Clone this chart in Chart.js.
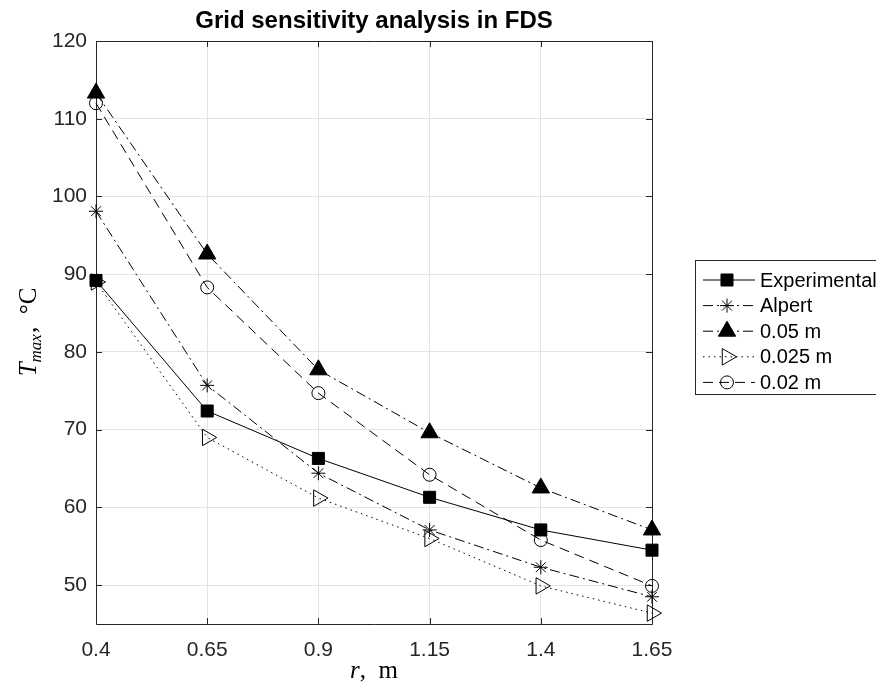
<!DOCTYPE html>
<html>
<head>
<meta charset="utf-8">
<script src="https://cdn.jsdelivr.net/npm/chart.js@4.4.1/dist/chart.umd.min.js"></script>
<style>
  html, body { margin: 0; padding: 0; background: #fff; }
  #wrap { width: 876px; height: 693px; }
</style>
</head>
<body>
<div id="wrap"><canvas id="chart" width="876" height="693"></canvas></div>
<script>
const radii = [0.4, 0.65, 0.9, 1.15, 1.4, 1.65];
const yTicks = [50, 60, 70, 80, 90, 100, 110, 120];

const experimental = [89.2, 72.4, 66.3, 61.3, 57.1, 54.5];
const alpert = [98.1, 75.7, 64.4, 57.1, 52.3, 48.5];
const grid005 = [113.3, 92.6, 77.7, 69.6, 62.5, 57.1];
const grid0025 = [89.0, 69.0, 61.2, 56.0, 49.9, 46.4];
const grid002 = [112.0, 88.3, 74.7, 64.2, 55.8, 49.9];

const seriesNames = ['Experimental', 'Alpert', '0.05 m', '0.025 m', '0.02 m'];

const axisColor = '#262626';
const tickFont = { family: 'Liberation Sans, Arial, sans-serif', size: 21 };

function points(values) {
    return radii.map((r, i) => ({ x: r, y: values[i] }));
}

function series(label, values, dash, style, radius, filled, rotation, order) {
    return {
        label: label,
        data: points(values),
        borderColor: '#000',
        borderWidth: 1,
        borderDash: dash,
        pointStyle: style,
        pointRadius: radius,
        pointHoverRadius: radius,
        pointRotation: rotation,
        pointBorderWidth: 1,
        pointBorderColor: '#000',
        pointBackgroundColor: filled ? '#000' : 'rgba(0,0,0,0)',
        tension: 0,
        fill: false,
        clip: false,
        order: order
    };
}

const datasets = [
    series(seriesNames[0], experimental, [], 'rect', 8.5, true, 0, 5),
    series(seriesNames[1], alpert, [10, 4, 2, 4], 'star', 7, false, 0, 4),
    series(seriesNames[2], grid005, [10, 4, 2, 4], 'triangle', 10, true, 0, 3),
    series(seriesNames[3], grid0025, [1.5, 4], 'triangle', 9.5, false, 90, 2),
    series(seriesNames[4], grid002, [10, 6], 'circle', 6.5, false, 0, 1)
];

// box, inward ticks, titles and the outside legend
const decorations = {
    id: 'decorations',
    beforeDatasetsDraw(chart) {
        const ctx = chart.ctx;
        const a = chart.chartArea;
        const xs = chart.scales.x, ys = chart.scales.y;
        ctx.save();
        ctx.strokeStyle = axisColor;
        ctx.lineWidth = 1;
        ctx.setLineDash([]);
        ctx.beginPath();
        ctx.rect(Math.round(a.left) + 0.5, Math.round(a.top) + 0.5,
                 Math.round(a.right - a.left), Math.round(a.bottom - a.top));
        ctx.stroke();

        const tl = 6;
        ctx.beginPath();
        radii.forEach(v => {
            const px = Math.round(xs.getPixelForValue(v)) + 0.5;
            ctx.moveTo(px, a.bottom); ctx.lineTo(px, a.bottom - tl);
            ctx.moveTo(px, a.top); ctx.lineTo(px, a.top + tl);
        });
        yTicks.forEach(v => {
            const py = Math.round(ys.getPixelForValue(v)) + 0.5;
            ctx.moveTo(a.left, py); ctx.lineTo(a.left + tl, py);
            ctx.moveTo(a.right, py); ctx.lineTo(a.right - tl, py);
        });
        ctx.stroke();
        ctx.restore();
    },
    afterDraw(chart) {
        const ctx = chart.ctx;
        const a = chart.chartArea;
        ctx.save();

        // title
        ctx.fillStyle = '#000';
        ctx.textAlign = 'center';
        ctx.textBaseline = 'alphabetic';
        ctx.font = 'bold 24px Liberation Sans, Arial, sans-serif';
        ctx.fillText('Grid sensitivity analysis in FDS', (a.left + a.right) / 2, 28);

        // x axis title: r, m
        const cx = (a.left + a.right) / 2;
        const xf = 25;
        ctx.font = 'italic ' + xf + 'px Liberation Serif, serif';
        const rW = ctx.measureText('r').width;
        ctx.font = xf + 'px Liberation Serif, serif';
        const restW = ctx.measureText(',  m').width;
        let sx = cx - (rW + restW) / 2;
        ctx.textAlign = 'left';
        ctx.font = 'italic ' + xf + 'px Liberation Serif, serif';
        ctx.fillText('r', sx, 678);
        ctx.font = xf + 'px Liberation Serif, serif';
        ctx.fillText(',  m', sx + rW, 678);

        // y axis title: T_max, °C
        ctx.save();
        ctx.translate(36, (a.top + a.bottom) / 2);
        ctx.rotate(-Math.PI / 2);
        ctx.font = 'italic 25px Liberation Serif, serif';
        const tW = ctx.measureText('T').width;
        ctx.font = 'italic 17px Liberation Serif, serif';
        const mW = ctx.measureText('max').width;
        ctx.font = '25px Liberation Serif, serif';
        const cW = ctx.measureText(',  °C').width;
        let ty = -(tW + mW + cW) / 2;
        ctx.textAlign = 'left';
        ctx.font = 'italic 25px Liberation Serif, serif';
        ctx.fillText('T', ty, 0);
        ctx.font = 'italic 17px Liberation Serif, serif';
        ctx.fillText('max', ty + tW, 5);
        ctx.font = '25px Liberation Serif, serif';
        ctx.fillText(',  °C', ty + tW + mW + 1, 0);
        ctx.restore();

        // legend
        const lx = 695.5, ly = 260.5;
        ctx.fillStyle = '#fff';
        ctx.fillRect(lx, ly, 200, 134);
        ctx.strokeStyle = axisColor;
        ctx.lineWidth = 1;
        ctx.strokeRect(lx, ly, 200, 134);
        ctx.font = '20px Liberation Sans, Arial, sans-serif';
        ctx.textBaseline = 'middle';
        chart.data.datasets.forEach((ds, i) => {
            const rowY = 280 + i * 25.6;
            ctx.strokeStyle = '#000';
            ctx.lineWidth = 1;
            ctx.setLineDash(ds.borderDash);
            ctx.beginPath();
            ctx.moveTo(703, rowY);
            ctx.lineTo(755, rowY);
            ctx.stroke();
            ctx.setLineDash([]);
            ctx.fillStyle = ds.pointBackgroundColor;
            ctx.strokeStyle = '#000';
            Chart.helpers.drawPoint(ctx, {
                pointStyle: ds.pointStyle,
                rotation: ds.pointRotation,
                radius: ds.pointRadius,
                borderWidth: 1
            }, 727, rowY);
            ctx.fillStyle = '#000';
            ctx.fillText(ds.label, 760, rowY + 1);
        });
        ctx.restore();
    }
};

new Chart(document.getElementById('chart'), {
    type: 'line',
    data: { datasets: datasets },
    plugins: [decorations],
    options: {
        responsive: false,
        animation: false,
        layout: { padding: { top: 41, right: 224, bottom: 0, left: 0 } },
        plugins: {
            legend: { display: false },
            title: { display: false },
            tooltip: { enabled: false }
        },
        scales: {
            x: {
                type: 'linear',
                min: 0.4,
                max: 1.65,
                afterBuildTicks: s => { s.ticks = radii.map(v => ({ value: v })); },
                afterFit: s => { s.height = 69; },
                grid: { color: '#e3e3e3', drawTicks: false },
                border: { display: false },
                ticks: {
                    color: axisColor,
                    font: tickFont,
                    padding: 14,
                    maxRotation: 0,
                    autoSkip: false,
                    callback: v => String(v)
                }
            },
            y: {
                type: 'linear',
                min: 45,
                max: 120,
                afterBuildTicks: s => { s.ticks = yTicks.map(v => ({ value: v })); },
                afterFit: s => { s.width = 96; },
                grid: { color: '#e3e3e3', drawTicks: false },
                border: { display: false },
                ticks: {
                    color: axisColor,
                    font: tickFont,
                    padding: 9,
                    callback: v => String(v)
                }
            }
        }
    }
});
</script>
</body>
</html>
